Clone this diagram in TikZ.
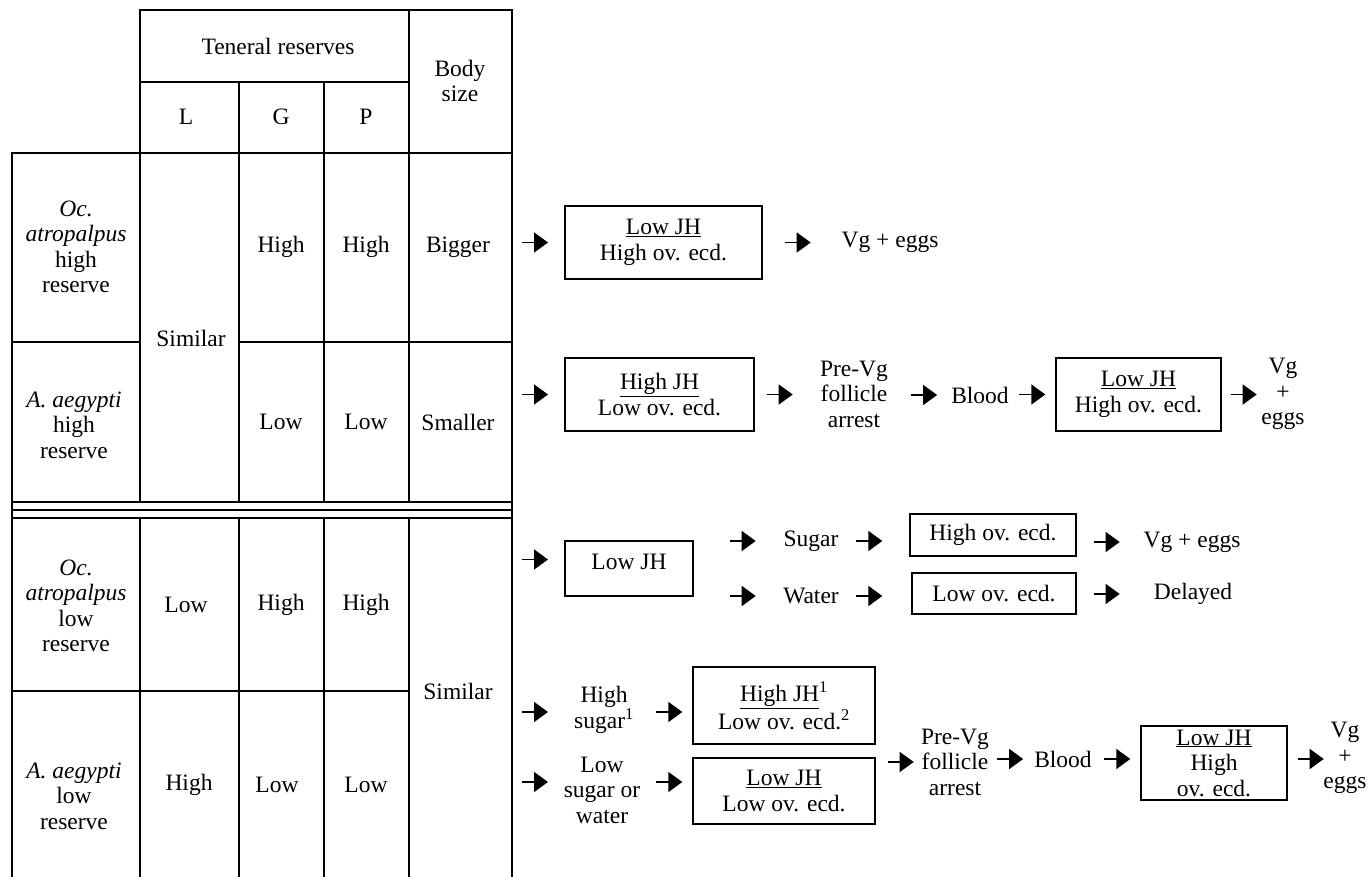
\documentclass[tikz,border=0pt]{standalone}
\usepackage{fontspec}
\setmainfont{Liberation Serif}
\usetikzlibrary{arrows.meta}

\begin{document}
\begin{tikzpicture}[x=1pt,y=-1pt,
    font=\fontsize{23.5pt}{25.5pt}\selectfont,
    rule/.style={line width=1.4pt},
    cell/.style={inner sep=0pt, align=center},
    box/.style={draw, line width=1.4pt, inner sep=0pt, align=center},
    flow/.style={line width=1.6pt, -{Triangle[length=14pt,width=20pt]}}]
  \useasboundingbox (0,0) rectangle (1369,877);
  % table rules
  \draw[rule] (140,502) -- (140,10) -- (512,10) -- (512,877);
  \draw[rule] (140,82) -- (409,82);
  \draw[rule] (409,10) -- (409,502);
  \foreach \x in {239,324} \draw[rule] (\x,82) -- (\x,502);
  \foreach \x in {140,239,324,409} \draw[rule] (\x,518) -- (\x,877);
  \draw[rule] (12,877) -- (12,153) -- (512,153);
  \draw[rule] (12,342) -- (140,342);
  \draw[rule] (239,342) -- (512,342);
  \foreach \y in {502,510,518} \draw[rule] (12,\y) -- (512,\y);
  \draw[rule] (12,691) -- (409,691);
  \coordinate (tab) at (512,0);
  % header
  \node[cell] (ten) at (278,46) {Teneral reserves};
  \node[cell] (body) at (460,81) {Body\\size};
  \node[cell] (colL) at (186,117) {L};
  \node[cell] (colG) at (281,117) {G};
  \node[cell] (colP) at (366,117) {P};
  % high reserve
  \node[cell] (sp1) at (76,247) {\textit{Oc.}\\\textit{atropalpus}\\high\\reserve};
  \node[cell] (sim1) at (191,338) {Similar};
  \node[cell] (g1) at (281,247) {High};
  \node[cell] (p1) at (366,247) {High};
  \node[cell] (b1) at (458,247) {Bigger};
  \node[cell] (sp2) at (74,425) {\textit{A. aegypti}\\high\\reserve};
  \node[cell] (g2) at (281,422) {Low};
  \node[cell] (p2) at (366,422) {Low};
  \node[cell] (b2) at (458,422) {Smaller};
  % low reserve
  \node[cell] (sp3) at (76,606) {\textit{Oc.}\\\textit{atropalpus}\\low\\reserve};
  \node[cell] (l3) at (186,605) {Low};
  \node[cell] (g3) at (281,605) {High};
  \node[cell] (p3) at (366,605) {High};
  \node[cell] (b3) at (458,691) {Similar};
  \node[cell] (sp4) at (74,796) {\textit{A. aegypti}\\low\\reserve};
  \node[cell] (l4) at (189,785) {High};
  \node[cell] (g4) at (277,785) {Low};
  \node[cell] (p4) at (366,785) {Low};

  % row 1
  \node[box, minimum width=197pt, minimum height=73pt] (lo1) at (663.5,242.5) {\underline{Low JH}\\High ov. ecd.};
  \node[cell] (vg1) at (890,242) {Vg + eggs};
  \draw[flow] ([xshift=10pt]tab |- lo1) -- ++(26,0);
  \draw[flow] ([xshift=22pt]lo1.east) -- ++(26,0);

  % row 2
  \node[box, minimum width=189pt, minimum height=73pt] (hi2) at (659.5,394.5) {\underline{High JH}\\Low ov. ecd.};
  \node[cell] (pre2) at (854,394) {Pre-Vg\\follicle\\arrest};
  \node[cell] (blood2) at (980,395) {Blood};
  \node[box, minimum width=165pt, minimum height=73pt] (lo2) at (1138.5,394.5) {\underline{Low JH}\\High ov. ecd.};
  \node[cell] (vg2) at (1283,394) {Vg\\+\\eggs};
  \draw[flow] ([xshift=10pt]tab |- hi2) -- ++(26,0);
  \draw[flow] ([xshift=12pt]hi2.east) -- ++(26,0);
  \draw[flow] ([xshift=23pt]pre2.east |- blood2) -- ++(26,0);
  \draw[flow] ([xshift=-36pt]lo2.west) -- ++(26,0);
  \draw[flow] ([xshift=9pt]lo2.east) -- ++(26,0);

  % row 3
  \node[box, minimum width=128pt, minimum height=55pt, text depth=13pt] (lo3) at (629,568.5) {Low JH};
  \node[cell] (sugar3) at (811,541) {Sugar};
  \node[cell] (water3) at (811,596) {Water};
  \node[box, minimum width=166pt, minimum height=42pt] (hov3) at (993,535) {High ov. ecd.};
  \node[box, minimum width=164pt, minimum height=41pt] (lov3) at (994,593.5) {Low ov. ecd.};
  \node[cell] (vg3) at (1192,542) {Vg + eggs};
  \node[cell] (del3) at (1193,594) {Delayed};
  \draw[flow] ([xshift=10pt,yshift=9pt]tab |- lo3) -- ++(26,0);
  \draw[flow] ([xshift=36pt]lo3.east |- sugar3) -- ++(26,0);
  \draw[flow] ([xshift=36pt]lo3.east |- water3) -- ++(26,0);
  \draw[flow] ([xshift=-53pt]hov3.west |- sugar3) -- ++(26,0);
  \draw[flow] ([xshift=-55pt]lov3.west |- water3) -- ++(26,0);
  \draw[flow] ([xshift=17pt]hov3.east |- vg3) -- ++(26,0);
  \draw[flow] ([xshift=17pt]lov3.east |- del3) -- ++(26,0);

  % row 4
  \node[cell] (hsug4) at (604,710) {High\\sugar\textsuperscript{1}};
  \node[cell] (lsug4) at (602,790) {Low\\sugar or\\water};
  \node[box, minimum width=182pt, minimum height=77pt] (hi4) at (784,705.5) {\underline{High JH}\textsuperscript{1}\\Low ov. ecd.\textsuperscript{2}};
  \node[box, minimum width=182pt, minimum height=66pt] (lo4) at (784,791) {\underline{Low JH}\\Low ov. ecd.};
  \node[cell] (pre4) at (955,762) {Pre-Vg\\follicle\\arrest};
  \node[cell] (blood4) at (1063,759) {Blood};
  \node[box, minimum width=146pt, minimum height=74pt] (lo5) at (1214,763) {\underline{Low JH}\\High\\ov. ecd.};
  \node[cell] (vg4) at (1345,758) {Vg\\+\\eggs};
  \draw[flow] ([xshift=10pt,yshift=-2pt]tab |- hsug4) -- ++(26,0);
  \draw[flow] ([xshift=10pt,yshift=8pt]tab |- lsug4) -- ++(26,0);
  \draw[flow] ([xshift=-36pt,yshift=-2pt]hi4.west |- hsug4) -- ++(26,0);
  \draw[flow] ([xshift=-36pt,yshift=9pt]lo4.west) -- ++(26,0);
  \draw[flow] ([xshift=12pt]hi4.east |- pre4) -- ++(26,0);
  \draw[flow] ([xshift=8pt]pre4.east |- blood4) -- ++(26,0);
  \draw[flow] ([xshift=-36pt]lo5.west |- blood4) -- ++(26,0);
  \draw[flow] ([xshift=10pt]lo5.east |- blood4) -- ++(26,0);
\end{tikzpicture}
\end{document}
